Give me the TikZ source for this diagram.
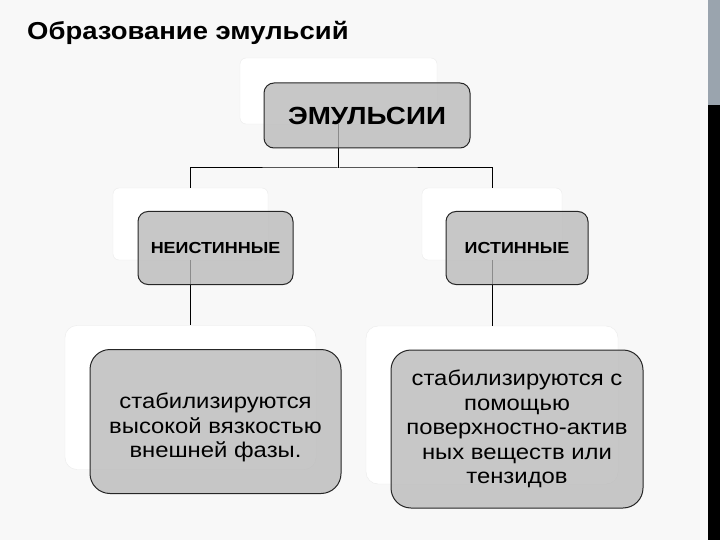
\documentclass[tikz,border=0pt]{standalone}
\usepackage{fontspec}
\setmainfont[FakeStretch=1.12]{Liberation Sans}
\begin{document}
\begin{tikzpicture}[x=1pt,y=-1pt]
\definecolor{bg}{RGB}{248,248,248}
\definecolor{barg}{RGB}{154,164,174}
\definecolor{boxg}{RGB}{183,183,183}
\tikzset{
  wbox/.style={fill=white, draw=black!8, rounded corners=6pt, inner sep=0pt},
  gbox/.style={fill=boxg, fill opacity=0.765, text opacity=1, draw=black!85, line width=1pt, inner sep=2pt, align=center},
  conn/.style={draw=black, line width=1pt},
  bigtxt/.style={font=\fontsize{21.3}{24.5}\selectfont}
}
\fill[bg] (0,0) rectangle (720,540);
\useasboundingbox (0,0) rectangle (720,540);
\fill[barg] (708,0) rectangle (720,105);
\fill[black] (708,105) rectangle (720,540);
\node[anchor=base west, inner sep=0pt, font=\fontsize{24.5}{28}\selectfont\bfseries] (title) at (27,40) {Образование эмульсий};
% white back plates
\node[wbox, minimum width=197pt, minimum height=66pt] (w0) at (338.5,91) {};
\node[wbox, minimum width=155pt, minimum height=72pt] (w1) at (190.5,224) {};
\node[wbox, minimum width=140pt, minimum height=72pt] (w2) at (492,224) {};
\node[wbox, minimum width=251pt, minimum height=144pt, rounded corners=12pt] (w3) at (190.5,397.5) {};
\node[wbox, minimum width=252pt, minimum height=158pt, rounded corners=12pt] (w4) at (492,405) {};
% connectors
\coordinate (j) at (338.5,168);
\draw[conn] (w0.south) -- (j);
\draw[conn] (w1.north) |- (j) -| (w2.north);
\draw[conn] (w1.south) -- (w3.north);
\draw[conn] (w2.south) -- (w4.north);
% grey boxes
\node[gbox, rounded corners=10pt, minimum width=206pt, minimum height=65pt, font=\fontsize{24.8}{28}\selectfont\bfseries] (b0) at (367,115.5) {ЭМУЛЬСИИ};
\node[gbox, rounded corners=10pt, minimum width=155pt, minimum height=73pt, font=\fontsize{16}{19}\selectfont\bfseries] (b1) at (215.5,248) {НЕИСТИННЫЕ};
\node[gbox, rounded corners=10pt, minimum width=142pt, minimum height=73pt, font=\fontsize{16}{19}\selectfont\bfseries] (b2) at (517,248) {ИСТИННЫЕ};
\node[gbox, rounded corners=20pt, minimum width=251pt, minimum height=144pt, bigtxt] (b3) at (215.5,421.5) {\rule{0pt}{28pt}стабилизируются\\высокой вязкостью\\внешней фазы.};
\node[gbox, rounded corners=20pt, minimum width=252pt, minimum height=158pt, bigtxt] (b4) at (517,429) {стабилизируются с\\помощью\\поверхностно-актив\\ных веществ или\\тензидов};
\end{tikzpicture}
\end{document}
